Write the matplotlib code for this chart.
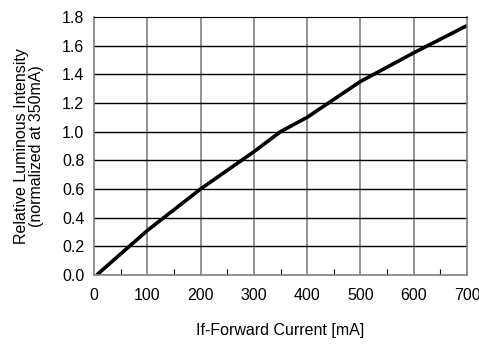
import matplotlib
matplotlib.use('Agg')
import matplotlib.pyplot as plt
from matplotlib.ticker import MultipleLocator

plt.rcParams['font.family'] = ['Liberation Sans', 'DejaVu Sans']

current = [5, 100, 200, 300, 350, 400, 500, 600, 700]
intensity = [0.0, 0.31, 0.60, 0.86, 1.0, 1.10, 1.35, 1.55, 1.74]

fig = plt.figure(figsize=(4.79, 3.44), dpi=100)
ax = fig.add_axes([94 / 479, 1 - 275 / 344, 373 / 479, 258 / 344])

ax.plot(current, intensity, color='black', linewidth=2.6, solid_capstyle='butt')

ax.set_xlim(0, 700)
ax.set_ylim(0, 1.8)
ax.xaxis.set_major_locator(MultipleLocator(100))
ax.xaxis.set_minor_locator(MultipleLocator(50))
ax.yaxis.set_major_locator(MultipleLocator(0.2))
ax.set_yticklabels([f'{v:.1f}' for v in ax.get_yticks()])

for x in range(100, 700, 100):
    ax.axvline(x, color='#7f7f7f', linewidth=1.2, zorder=0)
for y in [0.2 * i for i in range(1, 9)]:
    ax.axhline(y, color='black', linewidth=1.0, zorder=0)

for side in ['left', 'bottom', 'right']:
    ax.spines[side].set_color('#7f7f7f')
    ax.spines[side].set_linewidth(1.2)
ax.spines['top'].set_color('black')

ax.tick_params(axis='both', which='both', direction='in', labelsize=11.5,
               colors='black', length=0)
ax.tick_params(axis='x', which='minor', length=4, color='black', width=0.8)
ax.tick_params(axis='x', which='major', pad=9)
ax.tick_params(axis='y', which='major', pad=7)

ax.set_xlabel('If-Forward Current [mA]', fontsize=11.5, labelpad=15)
ax.set_ylabel('Relative Luminous Intensity\n(normalized at 350mA)', fontsize=11.5,
              labelpad=13, linespacing=1.0)

fig.savefig('out.png', dpi=100)
